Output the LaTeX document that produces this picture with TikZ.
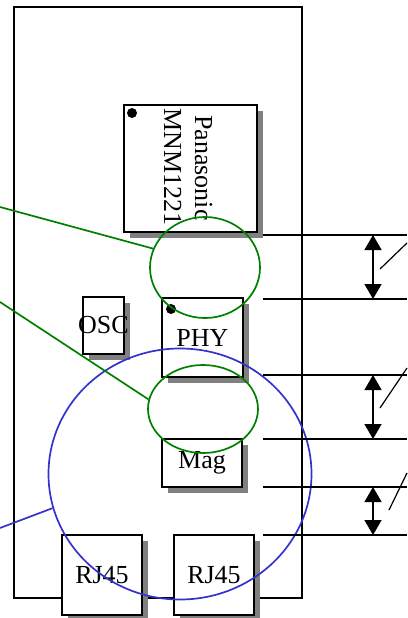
\documentclass[tikz,border=0pt]{standalone}
\usepackage{fontspec}
\setmainfont{Liberation Serif}
\usetikzlibrary{arrows.meta,shapes.geometric,shadows}
\definecolor{ringgreen}{RGB}{0,128,0}
\definecolor{ringblue}{RGB}{51,51,204}

\begin{document}
\begin{tikzpicture}[x=1pt, y=-1pt,
  part/.style={draw, line width=2pt, fill=white, inner sep=0pt,
    font=\fontsize{26}{31}\selectfont,
    drop shadow={shadow xshift=6pt, shadow yshift=-6pt, fill=black!50, opacity=1}},
  chiptext/.style={rotate=-90, anchor=base west, inner sep=0pt, font=\fontsize{26}{31}\selectfont},
  ring/.style={draw, ellipse, line width=1.7pt, inner sep=0pt},
  dimline/.style={black, line width=1.8pt},
  dimarrow/.style={black, line width=1.5pt, {Triangle[length=15pt,width=17pt]}-{Triangle[length=15pt,width=17pt]}},
  leader/.style={black, line width=1.2pt}]
\useasboundingbox (0,0) rectangle (407,618);
% board outline
\draw[black, line width=2pt] (14,7) rectangle (302,598);
% parts on the board
\node[part, minimum width=133pt, minimum height=127pt] (chip) at (190.5,168.5) {};
\node[chiptext] (brand) at (195,115) {Panasonic};
\node[chiptext] (partno) at (164,108) {MNM1221};
\fill (132,113) circle[radius=5pt];
\node[part, minimum width=41pt, minimum height=57pt] (osc) at (103.5,325.5) {};
\node[font=\fontsize{26}{31}\selectfont, inner sep=0pt] (osclabel) at (osc) {OSC};
\node[part, minimum width=81pt, minimum height=79pt] (phy) at (202.5,337.5) {PHY};
\fill (171,309) circle[radius=5pt];
\node[part, minimum width=80pt, minimum height=48pt] (mag) at (202,463) {Mag};
\node[part, minimum width=80pt, minimum height=80pt] (jackA) at (102,575) {RJ45};
\node[part, minimum width=80pt, minimum height=80pt] (jackB) at (214,575) {RJ45};
% marked regions
\node[ring, draw=ringgreen, minimum width=110pt, minimum height=101pt] (upper) at (205,267.5) {};
\node[ring, draw=ringgreen, minimum width=110pt, minimum height=88pt] (lower) at (203,409) {};
\node[ring, draw=ringblue, minimum width=263pt, minimum height=251pt] (jacks) at (180,474) {};
\coordinate (note1) at (0,207);
\coordinate (note2) at (0,302);
\coordinate (note3) at (0,528);
\draw[ringgreen, line width=1.7pt] (note1) -- (upper.160);
\draw[ringgreen, line width=1.7pt] (note2) -- (lower.170);
\draw[ringblue, line width=1.7pt] (note3) -- (jacks.195);
% spacing marks
\draw[dimline] (263,235) -- (407,235);
\draw[dimline] (263,299) -- (407,299);
\draw[dimline] (263,375) -- (407,375);
\draw[dimline] (263,439) -- (407,439);
\draw[dimline] (263,487) -- (407,487);
\draw[dimline] (263,535) -- (407,535);
\draw[dimarrow] (373,235) -- (373,299);
\draw[dimarrow] (373,375) -- (373,439);
\draw[dimarrow] (373,487) -- (373,535);
\draw[leader] (380,269) -- (407,243);
\draw[leader] (380,408) -- (407,368);
\draw[leader] (389,510) -- (407,473);
\end{tikzpicture}
\end{document}
